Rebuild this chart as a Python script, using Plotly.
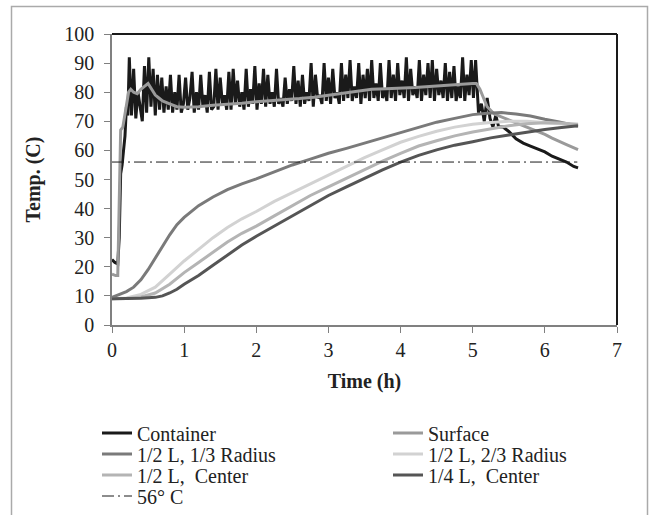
import numpy as np
import plotly.graph_objects as go

# ---------------- data ----------------
# Container (noisy oven air temperature)
cont_t_start = [0, 0.04, 0.08, 0.10, 0.12, 0.14, 0.16, 0.18, 0.20, 0.22]
cont_v_start = [22.5, 21.5, 21, 30, 52, 55, 60, 65, 75, 72]
cont_v_osc = [
    92, 72, 88, 71, 80, 74, 70, 89, 73, 92,
    75, 88, 72, 86, 74, 85, 73, 82, 74, 86,
    73, 80, 74, 86, 73, 76, 85, 74, 78, 87,
    73, 80, 74, 86, 75, 79, 73, 87, 74, 75,
    88, 74, 85, 76, 79, 74, 87, 74, 88, 76,
    84, 75, 80, 74, 88, 75, 81, 76, 89, 74,
    83, 76, 88, 75, 86, 76, 80, 75, 88, 76,
    78, 75, 85, 76, 81, 77, 89, 76, 84, 75,
    86, 76, 80, 77, 90, 75, 86, 78, 79, 76,
    90, 77, 85, 76, 88, 78, 80, 76, 90, 77,
    86, 78, 91, 77, 82, 78, 90, 76, 86, 78,
    88, 77, 91, 78, 83, 77, 90, 78, 81, 77,
    91, 78, 86, 77, 90, 79, 84, 78, 92, 77,
    88, 79, 82, 78, 91, 77, 86, 79, 90, 78,
    91, 77, 88, 79, 84, 78, 90, 77, 87, 78,
    89, 77, 82, 78, 92, 77, 86, 79, 91, 78,
    91,
]
cont_t_osc = list(np.round(0.24 + 0.03 * np.arange(len(cont_v_osc)), 2))
cont_t_end = [5.08, 5.12, 5.16, 5.20, 5.24, 5.28, 5.32, 5.36, 5.42, 5.5, 5.6,
              5.7, 5.8, 5.9, 6.0, 6.1, 6.2, 6.3, 6.4, 6.46]
cont_v_end = [73, 76, 70, 78, 71, 68, 72, 68, 68, 66.5, 64,
              62.5, 61.5, 60.5, 59.5, 58, 57, 56, 54.5, 54]
container_t = cont_t_start + cont_t_osc + cont_t_end
container_v = cont_v_start + cont_v_osc + cont_v_end

surface_t = [0, 0.05, 0.08, 0.10, 0.12, 0.15, 0.18, 0.20, 0.23, 0.26, 0.30, 0.35,
             0.40, 0.45, 0.50, 0.55, 0.60, 0.65, 0.70, 0.80, 0.90, 1.0, 1.2, 1.4,
             1.6, 1.8, 2.0, 2.2, 2.4, 2.6, 2.8, 3.0, 3.2, 3.4, 3.6, 3.8, 4.0, 4.2,
             4.4, 4.6, 4.8, 5.0, 5.05, 5.1, 5.15, 5.2, 5.3, 5.4, 5.5, 5.6, 5.7,
             5.8, 5.9, 6.0, 6.1, 6.2, 6.3, 6.46]
surface_v = [17.5, 17, 17, 40, 67, 68, 72, 75, 80, 81, 80, 79.5,
             81, 82, 83, 81, 79, 78, 77, 76, 75, 74.8, 75, 75.5,
             75.8, 76.2, 76.7, 77, 77.5, 77.8, 78.3, 79, 79.6, 80.2, 81, 81.2, 81.3, 81.6,
             82, 82.4, 82.7, 83, 83, 81, 78, 75, 72.5, 71.5, 70.5, 69.5, 68.5,
             67.5, 66.5, 65.5, 64.2, 63, 62, 60.3]

r13_t = [0, 0.1, 0.2, 0.3, 0.4, 0.5, 0.6, 0.7, 0.8, 0.9, 1.0, 1.2, 1.4, 1.6, 1.8,
         2.0, 2.25, 2.5, 2.75, 3.0, 3.25, 3.5, 3.75, 4.0, 4.25, 4.5, 4.75, 5.0,
         5.2, 5.4, 5.6, 5.8, 6.0, 6.2, 6.46]
r13_v = [9.5, 10.5, 11.5, 13, 15.5, 19, 23, 27, 31, 34.5, 37, 41, 44, 46.5, 48.5,
         50.2, 52.5, 55, 57, 59, 60.7, 62.5, 64.3, 66.3, 68, 69.7, 71, 72.3,
         72.8, 73, 72.5, 71.8, 70.7, 69.8, 68.3]

r23_t = [0, 0.2, 0.4, 0.6, 0.8, 1.0, 1.2, 1.4, 1.6, 1.8, 2.0, 2.25, 2.5, 2.75, 3.0,
         3.25, 3.5, 3.75, 4.0, 4.25, 4.5, 4.75, 5.0, 5.25, 5.5, 5.75, 6.0, 6.2, 6.46]
r23_v = [9, 9.3, 10.5, 13, 17.5, 22, 26, 30, 33.5, 36.5, 39, 42.5, 45.5, 48.5, 51.5,
         54.5, 57.5, 60.2, 62.8, 64.8, 66.6, 68, 69, 69.6, 70, 70, 69.6, 69.2, 68.7]

hc_t = [0, 0.2, 0.4, 0.6, 0.8, 1.0, 1.2, 1.4, 1.6, 1.8, 2.0, 2.25, 2.5, 2.75, 3.0,
        3.25, 3.5, 3.75, 4.0, 4.25, 4.5, 4.75, 5.0, 5.25, 5.5, 5.75, 6.0, 6.2, 6.46]
hc_v = [9, 9.1, 9.6, 11, 14, 18, 21.5, 25, 28.5, 31.5, 34, 37.5, 41, 44.5, 47.5,
        50.5, 53.5, 56.3, 59, 61.5, 63.3, 65, 66.3, 67.5, 68.5, 69.2, 69.5, 69.4, 69]

qc_t = [0, 0.2, 0.4, 0.6, 0.7, 0.8, 0.9, 1.0, 1.2, 1.4, 1.6, 1.8, 2.0, 2.25, 2.5,
        2.75, 3.0, 3.25, 3.5, 3.75, 4.0, 4.25, 4.5, 4.75, 5.0, 5.25, 5.5, 5.75,
        6.0, 6.2, 6.46]
qc_v = [9, 9, 9.2, 9.5, 10, 11, 12.3, 14, 17, 20.5, 24, 27.5, 30.5, 34, 37.5,
        41, 44.5, 47.5, 50.5, 53.3, 56, 58.3, 60.2, 61.8, 63, 64.3, 65.3, 66.3,
        67.2, 67.8, 68.5]

ref_t = [0, 6.45]
ref_v = [56, 56]

series_names = ["Container", "Surface", "1/2 L, 1/3 Radius", "1/2 L, 2/3 Radius",
                "1/2 L,  Center", "1/4 L,  Center", "56° C"]
x_ticks = [0, 1, 2, 3, 4, 5, 6, 7]
y_ticks = [0, 10, 20, 30, 40, 50, 60, 70, 80, 90, 100]

# ---------------- figure ----------------
FONT = "Liberation Serif, Times New Roman, serif"
fig = go.Figure()

series = [
    (container_t, container_v, "#1a1a1a", 3, "solid"),
    (surface_t, surface_v, "#9a9a9a", 3, "solid"),
    (r13_t, r13_v, "#7a7a7a", 3, "solid"),
    (r23_t, r23_v, "#d2d2d2", 3, "solid"),
    (hc_t, hc_v, "#b4b4b4", 3, "solid"),
    (qc_t, qc_v, "#555555", 3, "solid"),
    (ref_t, ref_v, "#1a1a1a", 1, "12px,4px,2px,4px"),
]
legend_ids = ["legend", "legend2", "legend3", "legend4", "legend5", "legend6", "legend7"]
for (t, v, col, w, dash), name, lid in zip(series, series_names, legend_ids):
    fig.add_trace(go.Scatter(x=t, y=v, mode="lines", name=name, legend=lid,
                             line=dict(color=col, width=w, dash=dash)))

# plot area: x 112..617, y 34..325 px
PL, PR, PT, PB = 112, 617, 34, 325
W, H = 652, 515
def px_x(px):
    return (px - PL) / (PR - PL)
def px_y(py):
    return (PB - py) / (PB - PT)

col1 = px_x(97)
col2 = px_x(388)
rows = [433, 454, 475, 496]
positions = [(col1, rows[0]), (col2, rows[0]), (col1, rows[1]), (col2, rows[1]),
             (col1, rows[2]), (col2, rows[2]), (col1, rows[3])]
legend_layout = {}
for lid, (lx, ly) in zip(legend_ids, positions):
    legend_layout[lid] = dict(x=lx, y=px_y(ly), xanchor="left", yanchor="middle",
                              bgcolor="rgba(0,0,0,0)", borderwidth=0,
                              font=dict(family=FONT, size=20, color="#222"))

fig.update_layout(
    width=W, height=H,
    margin=dict(l=PL, r=W - PR, t=PT, b=H - PB, autoexpand=False),
    paper_bgcolor="white", plot_bgcolor="white",
    font=dict(family=FONT, color="#222"),
    showlegend=True,
    **legend_layout,
)
fig.update_xaxes(range=[0, 7], tickvals=x_ticks, showgrid=False, zeroline=False,
                 showline=True, linecolor="#808080", linewidth=1.5,
                 ticks="outside", ticklen=6, tickcolor="#808080", tickwidth=1,
                 tickfont=dict(family=FONT, size=20, color="#222"),
                 title=dict(text="<b>Time (h)</b>", standoff=14,
                            font=dict(family=FONT, size=20, color="#222")))
fig.update_yaxes(range=[0, 100], tickvals=y_ticks, showgrid=False, zeroline=False,
                 showline=True, linecolor="#808080", linewidth=1.5,
                 ticks="outside", ticklen=6, tickcolor="#808080", tickwidth=1,
                 ticklabelstandoff=6,
                 tickfont=dict(family=FONT, size=20, color="#222"),
                 title=dict(text="<b>Temp. (C)</b>", standoff=18,
                            font=dict(family=FONT, size=20, color="#222")))

# black top/right border of the plot area
fig.add_shape(type="line", xref="x domain", yref="y domain", x0=0, x1=1, y0=1, y1=1,
              line=dict(color="#1a1a1a", width=2))
fig.add_shape(type="line", xref="x domain", yref="y domain", x0=1, x1=1, y0=0, y1=1,
              line=dict(color="#1a1a1a", width=2))
# light outer frame
fig.add_shape(type="rect", xref="paper", yref="paper",
              x0=px_x(11.5), x1=px_x(647.5), y0=px_y(530), y1=px_y(6.5),
              line=dict(color="#aaaaaa", width=1.5), fillcolor="rgba(0,0,0,0)",
              layer="below")

fig.write_html("out.html", config={"displayModeBar": False},
               post_script="document.body.style.margin='0';document.body.style.overflow='hidden';")
